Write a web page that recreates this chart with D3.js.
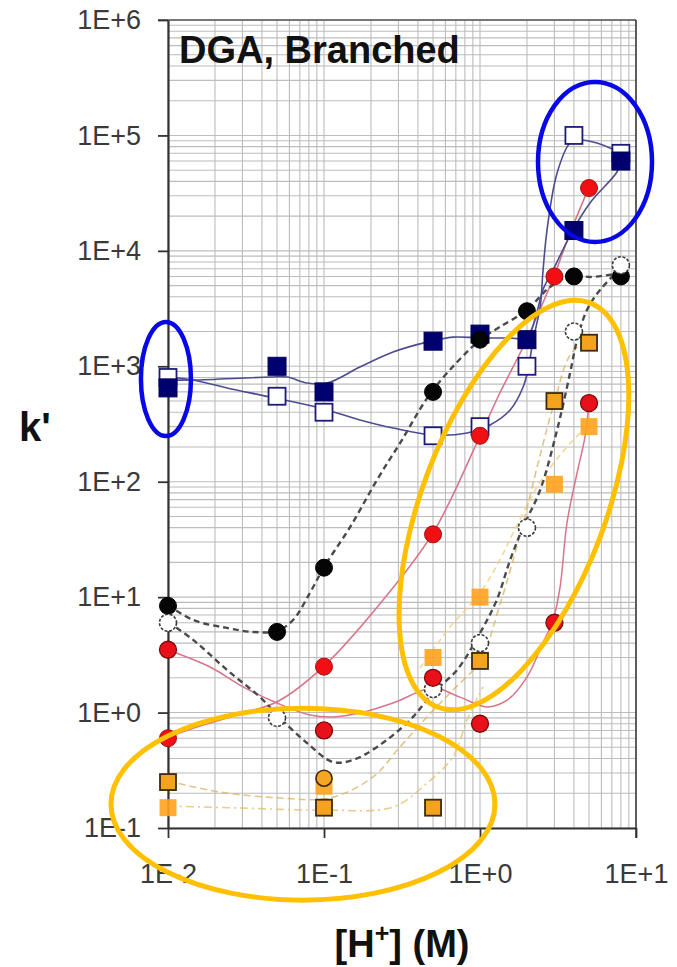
<!DOCTYPE html>
<html><head><meta charset="utf-8">
<script src="https://cdn.jsdelivr.net/npm/d3@7"></script>
<style>
html,body{margin:0;padding:0;background:#fff;}
svg{display:block;font-family:"Liberation Sans",Arial,Helvetica,sans-serif;}
</style></head><body>
<svg id="chart" width="677" height="967"></svg>
<script>
// Axis ticks: acid concentration [H+] (M) vs retention factor k'
const xTicks = [0.01, 0.1, 1, 10];
const xTickLabels = ["1E-2", "1E-1", "1E+0", "1E+1"];
const yTicks = [0.1, 1, 10, 100, 1e3, 1e4, 1e5, 1e6];
const yTickLabels = ["1E-1", "1E+0", "1E+1", "1E+2", "1E+3", "1E+4", "1E+5", "1E+6"];

// Measured k' values
const navyX = [0.01, 0.05, 0.1, 0.5, 1, 2, 4, 8];
const navySolidY = [650, 1000, 600, 1650, 1900, 1700, 15000, 60000];
const navyOpenY = [800, 550, 400, 250, 300, 1000, 100000, 70000];

const blackX = [0.01, 0.05, 0.1, 0.5, 1, 2, 4, 8];
const blackSolidY = [8.4, 5, 18, 600, 1700, 3000, 6000, 6000];

const ringX = [0.01, 0.05, 0.5, 1, 2, 4, 8];
const ringY = [6, 0.9, 1.6, 4, 40, 2000, 7500];

const redX = [0.01, 0.1, 0.5, 1, 3, 5];
const redUpperY = [0.6, 2.5, 35, 250, 6000, 35000];
const redLowerY = [3.5, 0.7, 2, 0.8, 6, 480];

const amberX = [0.01, 0.1, 0.5, 1, 3, 5];
const amberEdgedY = [0.25, 0.15, 0.15, 2.8, 500, 1600];
const amberSoftY = [0.15, 0.23, 3, 10, 95, 300];

const amberDotX = [0.1];
const amberDotY = [0.27];

// Model curves ([H+], k')
const navySolidFit = [[0.01,760],[0.0145,760],[0.045,807],[0.058,807],[0.078,716],[0.105,716],[0.17,986],[0.277,1330],[0.457,1620],[0.671,1790],[1.0,1760],[1.56,1760],[2.0,1760],[2.29,2780],[2.53,4580],[2.94,6820],[3.95,15200],[5.07,26000],[7.55,48200],[8,58900]];
const navyOpenFit = [[0.01,807],[0.0145,760],[0.0239,649],[0.045,542],[0.094,435],[0.17,343],[0.277,292],[0.5,254],[0.826,264],[1.16,310],[1.56,418],[1.89,662],[2.03,929],[2.19,1690],[2.43,3270],[2.53,6500],[2.69,15200],[3.12,47300],[3.78,86000],[4.38,91200],[5.62,86000],[6.81,77800],[8,69000]];
const redUpperFit = [[0.01,0.614],[0.016,0.766],[0.029,0.972],[0.05,1.24],[0.1,2.53],[0.239,9.44],[0.5,36],[1.0,249],[1.34,587],[1.89,1470],[2.53,3530],[3,6180],[3.78,14300],[5,35700]];
const redLowerFit = [[0.01,3.48],[0.0186,2.48],[0.0303,1.67],[0.05,1.21],[0.0813,0.953],[0.114,0.916],[0.17,0.99],[0.277,1.21],[0.5,1.63],[0.744,1.36],[1.11,1.12],[1.49,1.28],[2.0,2.03],[2.53,4.01],[2.94,6.34],[3.26,12.2],[3.61,43.9],[4.19,119],[4.71,244],[5,480]];
const blackSolidFit = [[0.01,8.55],[0.0145,6.34],[0.0239,5.41],[0.0351,4.99],[0.05,5.09],[0.0633,6.34],[0.0813,10.9],[0.1,18.2],[0.147,40.5],[0.219,104],[0.307,216],[0.5,624],[1.0,1690],[1.34,2190],[2.0,3080],[2.81,4860],[3.95,6180],[5.07,5940],[8,6430]];
const ringFit = [[0.01,6.1],[0.0145,4.26],[0.0239,2.34],[0.0389,1.36],[0.0523,0.897],[0.0778,0.545],[0.114,0.373],[0.153,0.388],[0.219,0.504],[0.356,0.863],[0.5,1.48],[0.713,2.34],[1.0,4.89],[1.28,9.44],[1.56,21],[1.89,40.5],[2.43,84.7],[3.12,281],[3.78,875],[4.19,1690],[4.85,3080],[5.88,4580],[8,7110]];
const amberEdgedFit = [[0.01,0.255],[0.0216,0.205],[0.0523,0.182],[0.109,0.182],[0.206,0.277],[0.307,0.504],[0.457,0.916],[0.671,1.57],[1.0,2.8],[1.34,8.55],[1.89,43.9],[2.43,170],[3,491],[3.78,1250],[5,1790]];
const amberLowFit = [[0.01,0.155],[0.029,0.149],[0.1,0.143],[0.277,0.152],[0.457,0.245],[0.671,0.412],[0.826,0.863],[1.045,1.67]];
const amberSoftFit = [[0.412,2.43],[0.643,5.51],[1.0,10.9],[1.34,21],[1.63,36],[2.32,90],[3.26,170],[4.38,264],[5,310]];

const svg = d3.select("#chart");
const plotLeft = 168, plotRight = 636, plotTop = 20, plotBottom = 828;

const x = d3.scaleLog().domain([0.01, 10]).range([plotLeft, plotRight]);
const y = d3.scaleLog().domain([0.1, 1e6]).range([plotBottom, plotTop]);

// Grid (major + minor decades)
const grid = svg.append("g").attr("stroke", "#bcbcbc").attr("stroke-width", 1.1);
grid.selectAll("line.gx").data(x.ticks()).join("line")
  .attr("x1", d => x(d)).attr("x2", d => x(d)).attr("y1", plotTop).attr("y2", plotBottom);
grid.selectAll("line.gy").data(y.ticks()).join("line")
  .attr("x1", plotLeft).attr("x2", plotRight).attr("y1", d => y(d)).attr("y2", d => y(d));

// Frame
svg.append("line").attr("x1", plotLeft - 10).attr("x2", plotRight).attr("y1", plotTop).attr("y2", plotTop)
  .attr("stroke", "#555").attr("stroke-width", 1.5);
svg.append("line").attr("x1", plotRight).attr("x2", plotRight).attr("y1", plotTop).attr("y2", plotBottom + 10)
  .attr("stroke", "#333").attr("stroke-width", 1.5);

// Axes
const yAxis = svg.append("g").attr("transform", `translate(${plotLeft},0)`)
  .call(d3.axisLeft(y).tickValues(yTicks).tickFormat((d, i) => yTickLabels[i]).tickSize(10).tickSizeOuter(0).tickPadding(17));
const xAxis = svg.append("g").attr("transform", `translate(0,${plotBottom})`)
  .call(d3.axisBottom(x).tickValues(xTicks).tickFormat((d, i) => xTickLabels[i]).tickSize(10).tickSizeOuter(0).tickPadding(26));
[yAxis, xAxis].forEach(a => {
  a.select(".domain").attr("stroke", "#333").attr("stroke-width", 2.2);
  a.selectAll(".tick line").attr("stroke", "#333").attr("stroke-width", 1.8);
  a.selectAll(".tick text").attr("fill", "#3a3a3a").attr("font-size", 27)
    .attr("font-family", '"Liberation Sans", Arial, sans-serif');
});

// Curves
const line = d3.line().x(d => x(d[0])).y(d => y(d[1])).curve(d3.curveCatmullRom.alpha(0.5));
const curves = svg.append("g").attr("fill", "none");
function drawFit(data, color, width, dash, opacity) {
  curves.append("path").attr("d", line(data)).attr("stroke", color).attr("stroke-width", width)
    .attr("stroke-dasharray", dash || null).attr("opacity", opacity || 1);
}
drawFit(amberLowFit, "#e2bf6a", 1.6, "8,4,2,4", 0.8);
drawFit(amberSoftFit, "#efd48a", 1.6, "6,4", 0.9);
drawFit(amberEdgedFit, "#d9b060", 1.6, "7,4", 0.75);
drawFit(redLowerFit, "#d77589", 1.5);
drawFit(redUpperFit, "#d77589", 1.6);
drawFit(ringFit, "#4a4a4a", 2.4, "6,4");
drawFit(blackSolidFit, "#4a4a4a", 2.4, "6,4");
drawFit(navyOpenFit, "#4c4c90", 1.6);
drawFit(navySolidFit, "#4c4c90", 1.6);

// Markers
const marks = svg.append("g");
function squares(xs, ys, size, fill, stroke, sw, opacity) {
  marks.append("g").attr("opacity", opacity || 1)
    .selectAll("rect").data(xs.map((d, i) => [d, ys[i]])).join("rect")
    .attr("x", d => x(d[0]) - size / 2).attr("y", d => y(d[1]) - size / 2)
    .attr("width", size).attr("height", size)
    .attr("fill", fill).attr("stroke", stroke).attr("stroke-width", sw);
}
function circles(xs, ys, r, fill, stroke, sw, dash) {
  marks.append("g").selectAll("circle").data(xs.map((d, i) => [d, ys[i]])).join("circle")
    .attr("cx", d => x(d[0])).attr("cy", d => y(d[1])).attr("r", r)
    .attr("fill", fill).attr("stroke", stroke).attr("stroke-width", sw)
    .attr("stroke-dasharray", dash || null);
}
squares(navyX, navyOpenY, 17, "#fff", "#1c1c78", 1.8);
squares(navyX, navySolidY, 18, "#00006e", "#00005a", 1);
circles(blackX, blackSolidY, 8.5, "#050505", "#000", 1);
circles(ringX, ringY, 8.5, "#fff", "#3a3a3a", 1.6, "3,1.6");
squares(amberX, amberSoftY, 17, "#ffa31f", "none", 0, 0.9);
squares(amberX, amberEdgedY, 16, "#f5a21e", "#3b2a10", 1.8);
circles(amberDotX, amberDotY, 8, "#f5a623", "#3b2a10", 1.6);
circles(redX, redUpperY, 8.5, "#f01014", "#a01010", 1);
circles(redX, redLowerY, 8.5, "#e8101a", "#7a0a0a", 1.3);

// Highlight rings
const notes = svg.append("g").attr("fill", "none");
notes.append("ellipse").attr("cx", x(5.46)).attr("cy", y(58900)).attr("rx", 57).attr("ry", 80)
  .attr("stroke", "#0808e6").attr("stroke-width", 4.5);
notes.append("ellipse").attr("cx", x(0.0097)).attr("cy", y(776)).attr("rx", 25).attr("ry", 57)
  .attr("stroke", "#0808e6").attr("stroke-width", 4.5);
notes.append("ellipse").attr("cx", 0).attr("cy", 0).attr("rx", 216).attr("ry", 92)
  .attr("transform", `translate(${x(1.65)},${y(62.8)}) rotate(-69.4)`)
  .attr("stroke", "#ffc000").attr("stroke-width", 5);
notes.append("ellipse").attr("cx", x(0.0733)).attr("cy", y(0.161)).attr("rx", 192).attr("ry", 96)
  .attr("stroke", "#ffc000").attr("stroke-width", 5);

// Titles
svg.append("text").attr("x", 179).attr("y", 63).attr("font-size", 38).attr("font-weight", "bold")
  .attr("fill", "#111").text("DGA, Branched");
svg.append("text").attr("x", 19).attr("y", 441).attr("font-size", 40).attr("font-weight", "bold")
  .attr("fill", "#111").text("k'");
const xt = svg.append("text").attr("x", 402).attr("y", 957).attr("text-anchor", "middle")
  .attr("font-size", 38).attr("font-weight", "bold").attr("fill", "#111");
xt.append("tspan").text("[H");
xt.append("tspan").attr("font-size", 25).attr("dy", -15).text("+");
xt.append("tspan").attr("dy", 15).text("] (M)");
</script>
</body></html>
